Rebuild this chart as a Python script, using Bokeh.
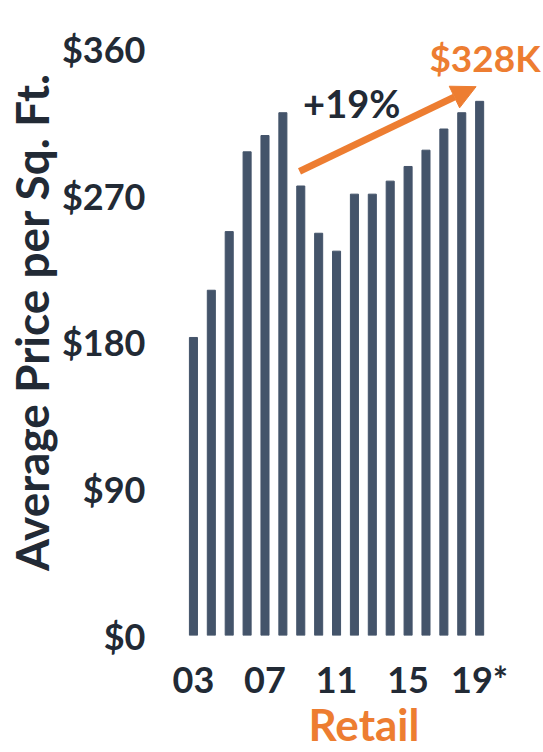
from bokeh.plotting import figure
from bokeh.models import Arrow, NormalHead, Label, FixedTicker, Range1d
from bokeh.embed import file_html
from bokeh.resources import INLINE

years = list(range(2003, 2020))
prices = [183, 212, 248, 297, 307, 321, 276, 247, 236, 271, 271, 279, 288, 298, 311, 321, 328]
y_ticks = [0, 90, 180, 270, 360]
y_tick_labels = ["$0", "$90", "$180", "$270", "$360"]
x_ticks = [2003, 2007, 2011, 2015, 2019]
x_tick_labels = ["03", "07", "11", "15", "19*"]
growth_label = "+19%"
y_title = "Average Price per Sq. Ft."
x_title = "Retail"

BAR = "#44546A"
ORANGE = "#ED7D31"
DARK = "#222A35"
FONT = "Lato"

p = figure(width=543, height=752, x_range=Range1d(2002.5, 2022.57), y_range=Range1d(0, 385),
           output_backend="svg", toolbar_location=None,
           min_border_left=183, min_border_right=0, min_border_top=8, min_border_bottom=116)
p.outline_line_color = None
p.grid.visible = False

p.vbar(x=years, top=prices, width=0.45, color=BAR)

for ax in (p.xaxis[0], p.yaxis[0]):
    ax.axis_line_color = None
    ax.major_tick_line_color = None
    ax.minor_tick_line_color = None
    ax.major_label_text_font = FONT
    ax.major_label_text_font_style = "bold"
    ax.major_label_text_font_size = "36px"
    ax.major_label_text_color = DARK
    ax.axis_label_text_font = FONT
    ax.axis_label_text_font_style = "bold"

p.yaxis.ticker = FixedTicker(ticks=y_ticks)
p.yaxis.major_label_overrides = dict(zip(y_ticks, y_tick_labels))
p.yaxis.major_label_standoff = 33
p.yaxis.axis_label = y_title
p.yaxis.axis_label_text_color = DARK
p.yaxis.axis_label_text_font_size = "46px"
p.yaxis.axis_label_standoff = 0

p.xaxis.ticker = FixedTicker(ticks=x_ticks)
p.xaxis.major_label_overrides = dict(zip(x_ticks, x_tick_labels))
p.xaxis.major_label_standoff = 15
p.xaxis.axis_label = x_title
p.xaxis.axis_label_text_color = ORANGE
p.xaxis.axis_label_text_font_size = "44px"
p.xaxis.axis_label_standoff = -6

i0 = years.index(2009)
p.add_layout(Arrow(end=NormalHead(size=24, fill_color=ORANGE, line_color=ORANGE),
                   x_start=years[i0] - 0.07, y_start=prices[i0] + 9,
                   x_end=years[-1] - 0.2, y_end=prices[-1] + 9,
                   line_color=ORANGE, line_width=7))

p.add_layout(Label(x=2011.85, y=327, text=growth_label, text_align="center", text_baseline="middle",
                   text_font=FONT, text_font_style="bold", text_font_size="38px", text_color=DARK))
p.add_layout(Label(x=years[-1] + 0.3, y=355, text=f"${prices[-1]}K", text_align="center",
                   text_baseline="middle", text_font=FONT, text_font_style="bold",
                   text_font_size="37px", text_color=ORANGE))

open("out.html", "w").write(file_html(p, INLINE))
